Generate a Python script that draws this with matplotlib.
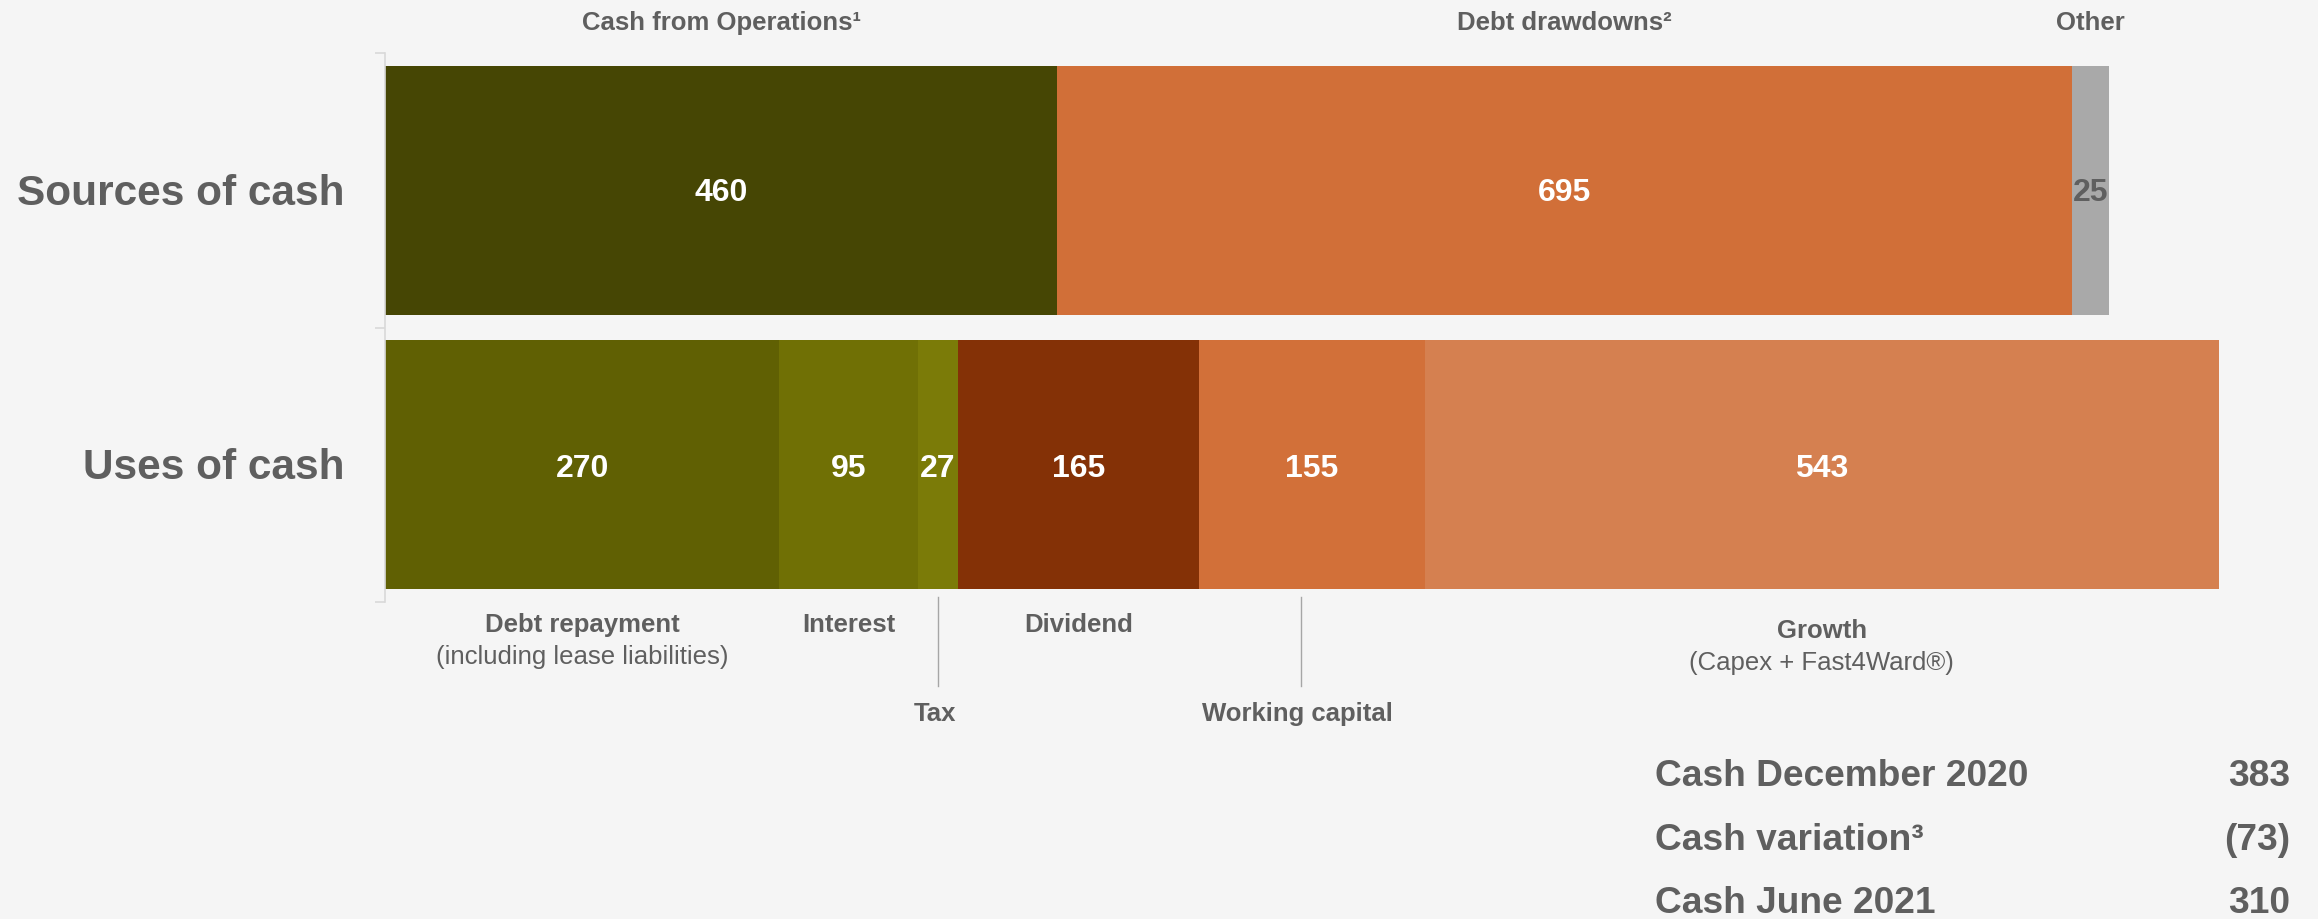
import matplotlib.pyplot as mpt

mpt.rcParams['font.family'] = ['Liberation Sans', 'DejaVu Sans']

# data
categories = ['Uses of cash', 'Sources of cash']

source_labels = ['Cash from Operations¹', 'Debt drawdowns²', 'Other']
source_values = [460, 695, 25]

use_labels = ['Debt repayment', 'Interest', 'Tax', 'Dividend', 'Working capital', 'Growth']
use_sublabels = ['(including lease liabilities)', '', '', '', '', '(Capex + Fast4Ward®)']
use_values = [270, 95, 27, 165, 155, 543]

summary_labels = ['Cash December 2020', 'Cash variation³', 'Cash June 2021']
summary_values = ['383', '(73)', '310']

# style
bg = '#F5F5F5'
gray = '#5F5F5F'
source_colors = ['#464604', '#D16F38', '#A9A9A9']
use_colors = ['#606003', '#707005', '#7B7B08', '#843106', '#D27039', '#D58050']
callouts = {'Tax': 0.5, 'Working capital': 0.45}

W, H = 2318, 919
fig = mpt.figure(figsize=(W / 100, H / 100), dpi=100, facecolor=bg)
ax = fig.add_axes([385 / W, 1 - 602 / H, (W - 385) / W, 549 / H])
ax.set_facecolor(bg)

bar_h = 0.907

# sources of cash
left = 0
for label, value, color in zip(source_labels, source_values, source_colors):
    ax.barh(1, value, left=left, height=bar_h, color=color)
    mid = left + value / 2
    val_color = gray if color == '#A9A9A9' else 'white'
    ax.annotate(str(value), xy=(mid, 1), xytext=(0, -8), textcoords='offset points',
                ha='center', va='baseline', fontsize=23, fontweight='bold', color=val_color)
    ax.annotate(label, xy=(mid, 1 + bar_h / 2), xytext=(0, 26), textcoords='offset points',
                ha='center', va='baseline', fontsize=18.5, fontweight='bold', color=gray,
                annotation_clip=False)
    left += value

# uses of cash
left = 0
bottom = -bar_h / 2
for label, sub, value, color in zip(use_labels, use_sublabels, use_values, use_colors):
    ax.barh(0, value, left=left, height=bar_h, color=color)
    mid = left + value / 2
    ax.annotate(str(value), xy=(mid, 0), xytext=(0, -8.5), textcoords='offset points',
                ha='center', va='baseline', fontsize=23, fontweight='bold', color='white')
    if label in callouts:
        xc = left + value * callouts[label]
        ax.plot([xc, xc], [-0.48, -0.805], color='#A6A6A6', lw=1, clip_on=False)
        ax.annotate(label, xy=(xc, bottom), xytext=(-2, -95), textcoords='offset points',
                    ha='center', va='baseline', fontsize=18.5, fontweight='bold', color=gray,
                    annotation_clip=False)
    else:
        dy = -4 if label == 'Growth' else 0
        ax.annotate(label, xy=(mid, bottom), xytext=(0, -31 + dy), textcoords='offset points',
                    ha='center', va='baseline', fontsize=18.5, fontweight='bold', color=gray,
                    annotation_clip=False)
        if sub:
            ax.annotate(sub, xy=(mid, bottom), xytext=(0, -54 + dy), textcoords='offset points',
                        ha='center', va='baseline', fontsize=18.5, color=gray,
                        annotation_clip=False)
    left += value

# category labels
for i, cat in enumerate(categories):
    ax.annotate(cat, xy=(0, i), xytext=(-29, -10.5), textcoords='offset points',
                ha='right', va='baseline', fontsize=30.5, fontweight='bold', color=gray,
                annotation_clip=False)

ax.set_xlim(0, (W - 385) / 1.461)
ax.set_ylim(-0.5, 1.5)
ax.set_xticks([])
ax.set_yticks([])
ax.set_yticks([-0.5, 0.5, 1.5], minor=True)
ax.tick_params(axis='y', which='minor', length=7, width=1.2, color='#D9D9D9')
for side in ['top', 'right', 'bottom']:
    ax.spines[side].set_visible(False)
ax.spines['left'].set_color('#D9D9D9')
ax.spines['left'].set_linewidth(1.2)

# summary table
baselines = [786, 850, 913]
for label, value, yb in zip(summary_labels, summary_values, baselines):
    fig.text(1655 / W, 1 - yb / H, label, ha='left', va='baseline',
             fontsize=26.7, fontweight='bold', color=gray)
    fig.text(2290 / W, 1 - yb / H, value, ha='right', va='baseline',
             fontsize=26.7, fontweight='bold', color=gray)

fig.savefig('out.png', dpi=100, facecolor=bg)
